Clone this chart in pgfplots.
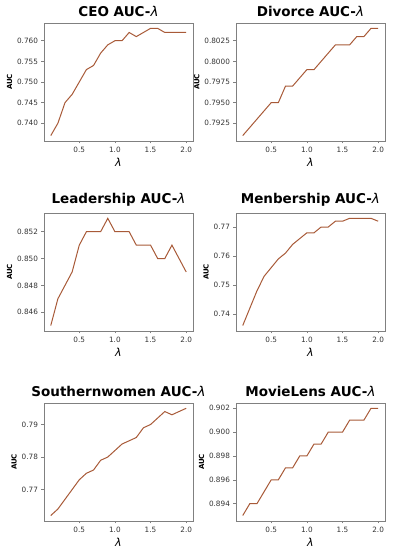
\documentclass[border=0pt]{standalone}
\usepackage{pgfplots}
\pgfplotsset{compat=1.18}
\usepackage{fontspec}
\setmainfont{DejaVu Sans}
\definecolor{linec}{HTML}{A85A38}
\definecolor{spine}{HTML}{808080}
\definecolor{ticktext}{HTML}{333333}
\pgfplotsset{
  sub/.style={
    scale only axis, width=149pt, height=118pt,
    anchor=south west,
    enlargelimits=0.05,
    axis line style={spine, line width=0.7pt},
    tick style={spine, line width=0.5pt},
    tick align=outside,
    xtick pos=bottom, ytick pos=left,
    major tick length=2.5pt,
    ticklabel style={font=\fontsize{7.3}{8}\selectfont, text=ticktext},
    /pgf/number format/assume math mode=true,
    xtick={0.5,1.0,1.5,2.0},
    xticklabels={0.5,1.0,1.5,2.0},
    title style={font=\fontsize{13.5}{15}\selectfont, yshift=-3pt},
    xlabel={\textit{λ}},
    xlabel style={font=\fontsize{11}{12}\selectfont, yshift=1pt},
    ylabel={\bfseries AUC},
    ylabel style={font=\fontsize{7}{8}\selectfont, yshift=-2pt},
    scaled y ticks=false,
  },
  ser/.style={color=linec, line width=1pt, mark=none},
}
\begin{document}
\begin{tikzpicture}
\path (0,0) rectangle (393pt,550pt);
% CEO
\begin{axis}[sub, at={(44pt,409pt)},
  title={\bfseries CEO AUC-\mdseries\itshape λ},
  ytick={0.740,0.745,0.750,0.755,0.760},
  yticklabels={0.740,0.745,0.750,0.755,0.760}]
\addplot[ser] coordinates {(0.1,0.737)(0.2,0.740)(0.3,0.745)(0.4,0.747)(0.5,0.750)(0.6,0.753)(0.7,0.754)(0.8,0.757)(0.9,0.759)(1.0,0.760)(1.1,0.760)(1.2,0.762)(1.3,0.761)(1.4,0.762)(1.5,0.763)(1.6,0.763)(1.7,0.762)(1.8,0.762)(1.9,0.762)(2.0,0.762)};
\end{axis}
% Divorce
\begin{axis}[sub, at={(236pt,409pt)},
  title={\bfseries Divorce AUC-\mdseries\itshape λ},
  ytick={0.7925,0.7950,0.7975,0.8000,0.8025},
  yticklabels={0.7925,0.7950,0.7975,0.8000,0.8025}]
\addplot[ser] coordinates {(0.1,0.791)(0.2,0.792)(0.3,0.793)(0.4,0.794)(0.5,0.795)(0.6,0.795)(0.7,0.797)(0.8,0.797)(0.9,0.798)(1.0,0.799)(1.1,0.799)(1.2,0.800)(1.3,0.801)(1.4,0.802)(1.5,0.802)(1.6,0.802)(1.7,0.803)(1.8,0.803)(1.9,0.804)(2.0,0.804)};
\end{axis}
% Leadership
\begin{axis}[sub, at={(44pt,219pt)},
  title={\bfseries Leadership AUC-\mdseries\itshape λ},
  ytick={0.846,0.848,0.850,0.852},
  yticklabels={0.846,0.848,0.850,0.852}]
\addplot[ser] coordinates {(0.1,0.845)(0.2,0.847)(0.3,0.848)(0.4,0.849)(0.5,0.851)(0.6,0.852)(0.7,0.852)(0.8,0.852)(0.9,0.853)(1.0,0.852)(1.1,0.852)(1.2,0.852)(1.3,0.851)(1.4,0.851)(1.5,0.851)(1.6,0.850)(1.7,0.850)(1.8,0.851)(1.9,0.850)(2.0,0.849)};
\end{axis}
% Menbership
\begin{axis}[sub, at={(236pt,219pt)},
  title={\bfseries Menbership AUC-\mdseries\itshape λ},
  ytick={0.74,0.75,0.76,0.77},
  yticklabels={0.74,0.75,0.76,0.77}]
\addplot[ser] coordinates {(0.1,0.736)(0.2,0.742)(0.3,0.748)(0.4,0.753)(0.5,0.756)(0.6,0.759)(0.7,0.761)(0.8,0.764)(0.9,0.766)(1.0,0.768)(1.1,0.768)(1.2,0.770)(1.3,0.770)(1.4,0.772)(1.5,0.772)(1.6,0.773)(1.7,0.773)(1.8,0.773)(1.9,0.773)(2.0,0.772)};
\end{axis}
% Southernwomen
\begin{axis}[sub, at={(44pt,29pt)},
  title={\bfseries Southernwomen AUC-\mdseries\itshape λ},
  ytick={0.77,0.78,0.79},
  yticklabels={0.77,0.78,0.79}]
\addplot[ser] coordinates {(0.1,0.762)(0.2,0.764)(0.3,0.767)(0.4,0.770)(0.5,0.773)(0.6,0.775)(0.7,0.776)(0.8,0.779)(0.9,0.780)(1.0,0.782)(1.1,0.784)(1.2,0.785)(1.3,0.786)(1.4,0.789)(1.5,0.790)(1.6,0.792)(1.7,0.794)(1.8,0.793)(1.9,0.794)(2.0,0.795)};
\end{axis}
% MovieLens
\begin{axis}[sub, at={(236pt,29pt)},
  title={\bfseries MovieLens AUC-\mdseries\itshape λ},
  ytick={0.894,0.896,0.898,0.900,0.902},
  yticklabels={0.894,0.896,0.898,0.900,0.902}]
\addplot[ser] coordinates {(0.1,0.893)(0.2,0.894)(0.3,0.894)(0.4,0.895)(0.5,0.896)(0.6,0.896)(0.7,0.897)(0.8,0.897)(0.9,0.898)(1.0,0.898)(1.1,0.899)(1.2,0.899)(1.3,0.900)(1.4,0.900)(1.5,0.900)(1.6,0.901)(1.7,0.901)(1.8,0.901)(1.9,0.902)(2.0,0.902)};
\end{axis}
\end{tikzpicture}
\end{document}
